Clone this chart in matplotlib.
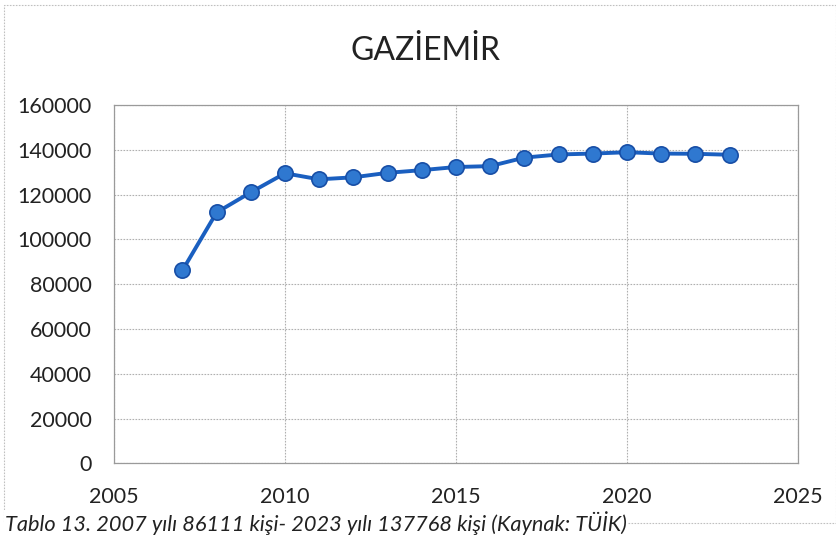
import matplotlib
matplotlib.use("Agg")
import matplotlib.pyplot as plt
from matplotlib.patches import Rectangle

years = [2007, 2008, 2009, 2010, 2011, 2012, 2013, 2014, 2015,
         2016, 2017, 2018, 2019, 2020, 2021, 2022, 2023]
population = [86111, 112000, 121000, 129500, 126800, 127700, 129700, 130900, 132300,
              132700, 136500, 137900, 138300, 138900, 138300, 138200, 137768]

title = "GAZİEMİR"
caption = "Tablo 13. 2007 yılı 86111 kişi- 2023 yılı 137768 kişi (Kaynak: TÜİK)"
x_ticks = [2005, 2010, 2015, 2020, 2025]
y_ticks = [0, 20000, 40000, 60000, 80000, 100000, 120000, 140000, 160000]

plt.rcParams["font.family"] = ["Lato", "DejaVu Sans"]

fig = plt.figure(figsize=(8.37, 5.4), dpi=100)
ax = fig.add_axes([0.1362, 0.142, 0.8172, 0.6636])

ax.plot(years, population, color="#1a5fc0", lw=2.8, marker="o", ms=11,
        markerfacecolor="#2f78d0", markeredgecolor="#174ea6", markeredgewidth=1.2,
        zorder=3)

ax.set_xlim(2005, 2025)
ax.set_ylim(0, 160000)
ax.set_xticks(x_ticks)
ax.set_yticks(y_ticks)
ax.set_xticklabels([str(t) for t in x_ticks])
ax.set_yticklabels([str(t) for t in y_ticks])
ax.tick_params(axis="both", length=0, labelsize=15.5, colors="#222222")
ax.tick_params(axis="y", pad=16)
ax.tick_params(axis="x", pad=17)
ax.grid(True, color="#b0b0b0", lw=0.8, linestyle=(0, (1.5, 1.2)))
for s in ax.spines.values():
    s.set_color("#9a9a9a")
    s.set_linewidth(0.9)

fig.text(0.508, 0.905, title, ha="center", va="center", fontsize=23, color="#222222")

# outer chart border, caption sits on its bottom edge
fig.patches.append(Rectangle((0.005, 0.031), 0.994, 0.96, transform=fig.transFigure,
                             fill=False, edgecolor="#c0c0c0", lw=0.8, linestyle=(0, (1.5, 1.2))))
fig.text(0.006, 0.031, caption, ha="left", va="center", fontsize=15.7, style="italic",
         color="#222222", bbox=dict(facecolor="white", edgecolor="none", pad=1))

fig.savefig("out.png", dpi=100)
